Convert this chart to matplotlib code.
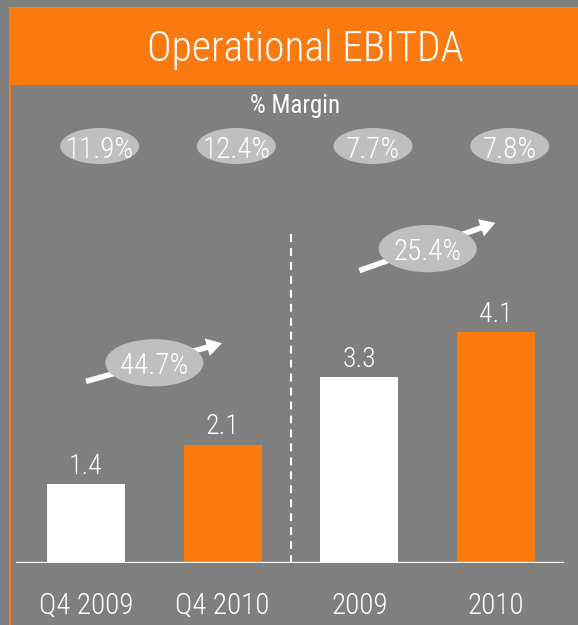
import matplotlib
matplotlib.use("Agg")
import matplotlib.pyplot as plt
from matplotlib.patches import Ellipse, Rectangle, FancyArrowPatch

plt.rcParams['font.family'] = ['Roboto Condensed', 'DejaVu Sans']
plt.rcParams['font.weight'] = 'light'

# ---- data ----
categories = ["Q4 2009", "Q4 2010", "2009", "2010"]
ebitda = [1.4, 2.1, 3.3, 4.1]
margins = ["11.9%", "12.4%", "7.7%", "7.8%"]
growth_labels = ["44.7%", "25.4%"]
growth_pairs = [(0, 1), (2, 3)]

ORANGE = "#FB7A0F"
GREY = "#7F7F7F"
LIGHT = "#BFBFBF"
WHITE = "#FFFFFF"
bar_colors = [WHITE, ORANGE, WHITE, ORANGE]

W, H = 578, 625
fig = plt.figure(figsize=(W / 100, H / 100), dpi=100, facecolor=GREY)

# title bar and left border
fig.patches.append(Rectangle((9 / W, (H - 85) / H), 1 - 9 / W, 78 / H,
                             transform=fig.transFigure, facecolor=ORANGE,
                             edgecolor='none', zorder=0))
fig.patches.append(Rectangle((9 / W, 0), 2 / W, (H - 85) / H,
                             transform=fig.transFigure, facecolor=ORANGE,
                             edgecolor='none', zorder=0))
fig.text(305 / W, (H - 61) / H, "Operational EBITDA", color=WHITE,
         fontsize=30, ha='center', va='baseline', fontweight='light')

# main axes: baseline at y=563px, spanning x 16..564px
ax_left, ax_right = 16, 564
ax_bottom, ax_top = 563, 85
ax = fig.add_axes([ax_left / W, (H - ax_bottom) / H,
                   (ax_right - ax_left) / W, (ax_bottom - ax_top) / H])
ax.set_facecolor('none')
ax.set_xlim(-0.512, 3.497)
ax.set_ylim(0, 8.5)
for s in ax.spines.values():
    s.set_visible(False)
ax.set_yticks([])
x = list(range(len(categories)))
ax.bar(x, ebitda, width=0.57, color=bar_colors, zorder=2)
ax.axhline(0, color=WHITE, lw=1.6, zorder=3)

ax.set_xticks(x)
ax.set_xticklabels(categories, fontsize=21, color=WHITE, fontweight='light')
ax.tick_params(axis='x', length=0, pad=36.5)
for lbl in ax.get_xticklabels():
    lbl.set_va('baseline')

# value labels
for xi, v in zip(x, ebitda):
    ax.annotate(f"{v:.1f}", (xi, v), xytext=(0, 7.5), textcoords='offset points',
                ha='center', va='baseline', fontsize=20, color=WHITE, zorder=5,
                fontweight='light')

# dashed separator
ax.plot([1.5, 1.5], [0, 5.885], color=WHITE, lw=1.5,
        linestyle=(0, (3.8, 2.9)), zorder=1)

# margin header and bubbles
ax.text(1.53, 8.0, "% Margin", ha='center', va='baseline', fontsize=18,
        color=WHITE, fontweight='normal', clip_on=False)
for xi, m in zip(x, margins):
    ax.add_patch(Ellipse((xi + 0.1, 7.415), 0.578, 0.64, facecolor=LIGHT,
                         edgecolor='none', zorder=3, clip_on=False))
    ax.text(xi + 0.1, 7.2, m, ha='center', va='baseline', fontsize=21,
            color=WHITE, zorder=4, clip_on=False, fontweight='light')

# growth arrows
arrow_ys = [(3.23, 3.91), (5.2, 6.05)]
ell_ys = [3.56, 5.59]
for (a, b), lab, (y0, y1), ey in zip(growth_pairs, growth_labels, arrow_ys, ell_ys):
    arr = FancyArrowPatch((x[a], y0), (x[b] - 0.005, y1),
                          arrowstyle="simple,head_length=0.55,head_width=0.65,tail_width=0.2",
                          mutation_scale=20, color=WHITE, lw=0, shrinkA=0, shrinkB=0,
                          zorder=3)
    ax.add_patch(arr)
    xm = (x[a] + x[b]) / 2
    ax.add_patch(Ellipse((xm, ey), 0.717, 0.84, facecolor=LIGHT,
                         edgecolor='none', zorder=4))
    ax.text(xm, ey - 0.2, lab, ha='center', va='baseline', fontsize=21,
            color=WHITE, zorder=5, fontweight='light')

fig.savefig("out.png", dpi=100, facecolor=GREY)
